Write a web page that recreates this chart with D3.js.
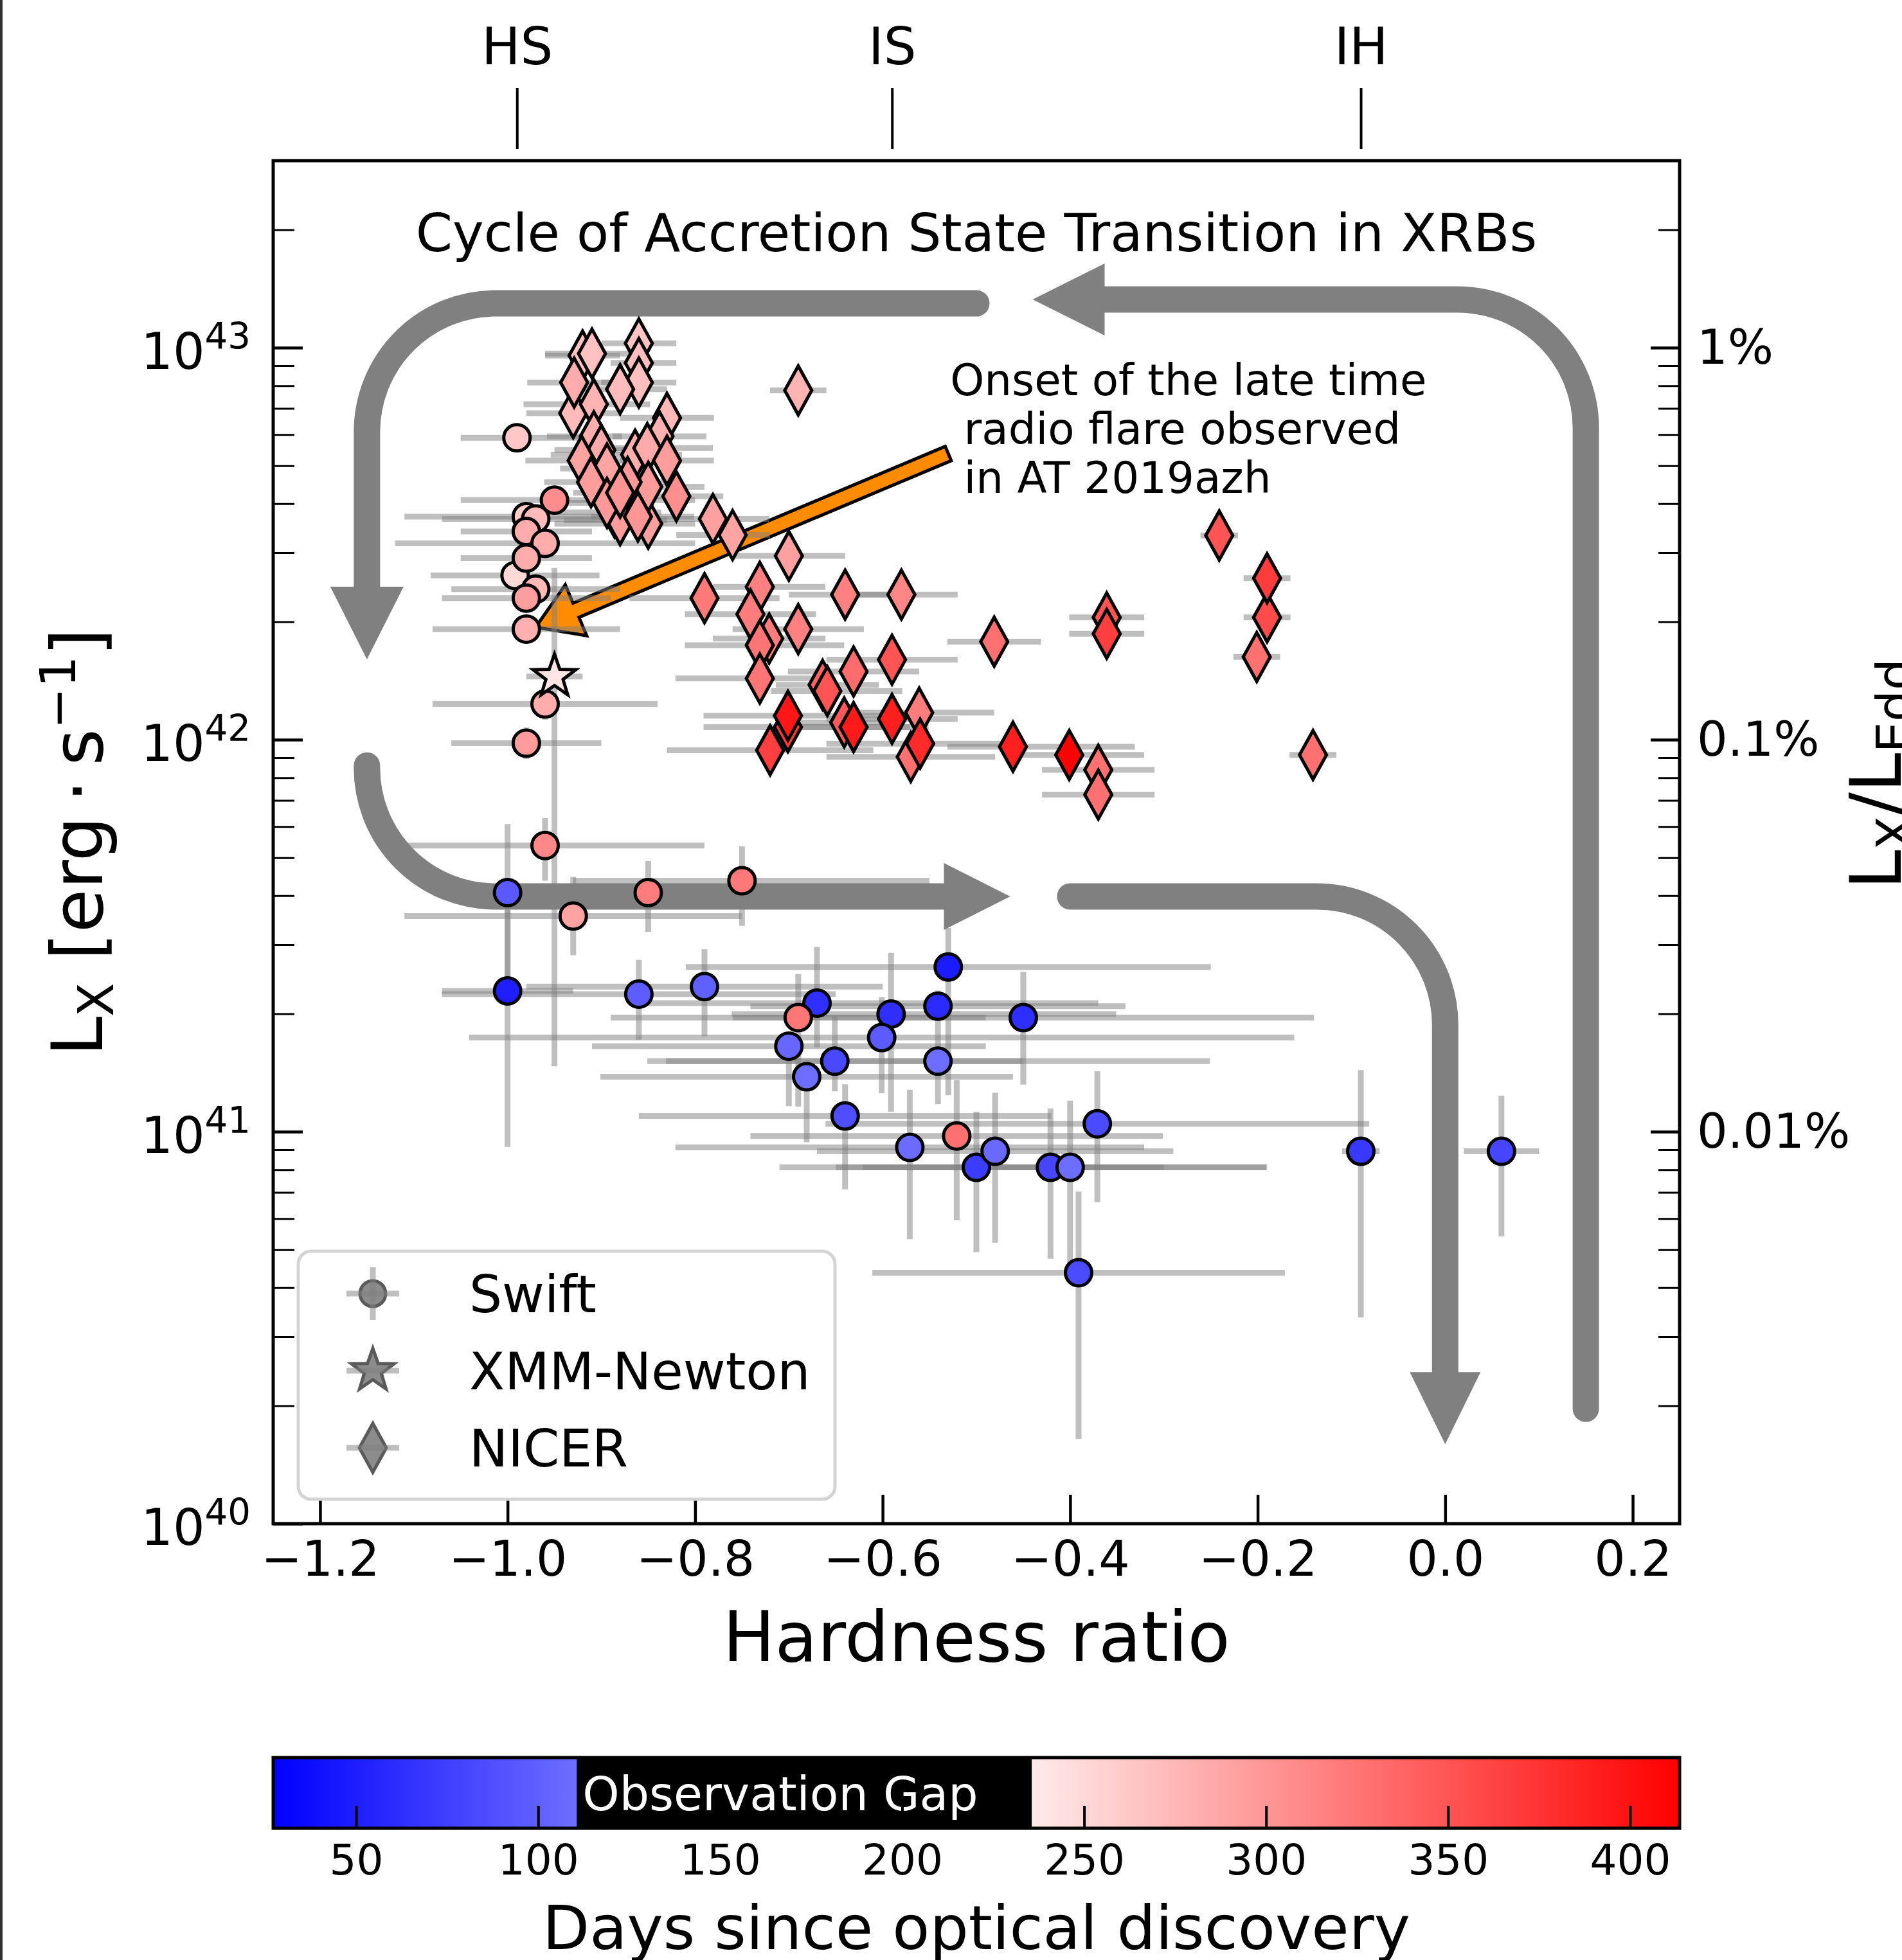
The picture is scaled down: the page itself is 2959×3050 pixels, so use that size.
<!DOCTYPE html>
<html>
<head>
<meta charset="utf-8">
<script src="https://cdn.jsdelivr.net/npm/d3@7"></script>
<style>
  body { margin: 0; background: #fff; }
  svg text { font-family: 'DejaVu Sans', sans-serif; }
</style>
</head>
<body>
<div id="chart"></div>
<script>
const width = 2959
const height = 3050
const plot = { left: 425, right: 2613, top: 250, bottom: 2371 }

// Swift: [hardness ratio, log Lx, x err low, x err high, y err low (dex), y err high (dex), days]
const swift = [
  [-1.000, 41.610, 0.08, 0.08, 0.215, 0.175, 95],
  [-1.000, 41.359, 0.07, 0.07, 0.398, 0.206, 50],
  [-0.860, 41.351, 0.21, 0.21, 0.117, 0.087, 97],
  [-0.790, 41.370, 0.19, 0.19, 0.127, 0.095, 100],
  [-0.670, 41.328, 0.20, 0.30, 0.113, 0.143, 63],
  [-0.700, 41.218, 0.21, 0.21, 0.153, 0.035, 105],
  [-0.681, 41.140, 0.22, 0.22, 0.167, 0.038, 110],
  [-0.651, 41.180, 0.20, 0.20, 0.077, 0.113, 82],
  [-0.640, 41.040, 0.22, 0.22, 0.187, 0.081, 86],
  [-0.591, 41.300, 0.17, 0.24, 0.249, 0.156, 62],
  [-0.601, 41.240, 0.44, 0.44, 0.142, 0.103, 96],
  [-0.530, 41.420, 0.28, 0.28, 0.327, 0.100, 48],
  [-0.541, 41.320, 0.20, 0.20, 0.080, 0.040, 60],
  [-0.541, 41.180, 0.29, 0.29, 0.110, 0.060, 110],
  [-0.450, 41.291, 0.31, 0.31, 0.171, 0.117, 62],
  [-0.571, 40.960, 0.25, 0.25, 0.234, 0.147, 108],
  [-0.500, 40.909, 0.21, 0.20, 0.216, 0.142, 73],
  [-0.480, 40.950, 0.19, 0.19, 0.233, 0.149, 107],
  [-0.421, 40.909, 0.20, 0.23, 0.233, 0.150, 80],
  [-0.400, 40.909, 0.25, 0.21, 0.258, 0.170, 110],
  [-0.371, 41.020, 0.29, 0.29, 0.200, 0.134, 83],
  [-0.391, 40.640, 0.22, 0.22, 0.424, 0.207, 84],
  [-0.090, 40.950, 0.02, 0.02, 0.424, 0.207, 70],
  [0.060, 40.950, 0.04, 0.04, 0.217, 0.142, 80],
  [-0.990, 42.770, 0.06, 0.07, 0.02, 0.02, 263],
  [-0.950, 42.611, 0.10, 0.15, 0.03, 0.03, 307],
  [-0.980, 42.569, 0.13, 0.13, 0.03, 0.03, 260],
  [-0.970, 42.563, 0.10, 0.10, 0.03, 0.03, 272],
  [-0.980, 42.531, 0.07, 0.07, 0.03, 0.03, 283],
  [-0.960, 42.501, 0.16, 0.16, 0.03, 0.03, 283],
  [-0.980, 42.463, 0.07, 0.07, 0.03, 0.03, 283],
  [-0.992, 42.419, 0.09, 0.09, 0.03, 0.03, 250],
  [-0.970, 42.384, 0.09, 0.09, 0.03, 0.03, 274],
  [-0.980, 42.361, 0.09, 0.09, 0.03, 0.03, 294],
  [-0.980, 42.282, 0.10, 0.10, 0.03, 0.03, 281],
  [-0.960, 42.091, 0.12, 0.12, 0.04, 0.04, 283],
  [-0.980, 41.991, 0.08, 0.08, 0.04, 0.04, 296],
  [-0.960, 41.730, 0.155, 0.17, 0.09, 0.07, 311],
  [-0.930, 41.550, 0.18, 0.18, 0.10, 0.10, 291],
  [-0.850, 41.610, 0.15, 0.15, 0.10, 0.08, 320],
  [-0.750, 41.640, 0.18, 0.20, 0.115, 0.088, 322],
  [-0.690, 41.291, 0.20, 0.20, 0.227, 0.111, 324],
  [-0.521, 40.989, 0.22, 0.22, 0.215, 0.142, 328]
]

// XMM-Newton: same columns
const xmm = [
  [-0.950, 42.161, 0.03, 0.03, 0.994, 0.277, 240]
]

// NICER: [hardness ratio, log Lx, x err low, x err high, days]
const nicer = [
  [-0.920, 42.980, 0.04, 0.04, 267],
  [-0.910, 42.985, 0.05, 0.04, 267],
  [-0.860, 43.011, 0.04, 0.04, 264],
  [-0.860, 42.961, 0.03, 0.04, 269],
  [-0.860, 42.911, 0.04, 0.04, 269],
  [-0.929, 42.911, 0.05, 0.05, 283],
  [-0.930, 42.833, 0.05, 0.05, 273],
  [-0.908, 42.856, 0.075, 0.06, 278],
  [-0.880, 42.894, 0.05, 0.05, 271],
  [-0.830, 42.821, 0.05, 0.05, 275],
  [-0.921, 42.712, 0.06, 0.06, 291],
  [-0.900, 42.739, 0.05, 0.05, 285],
  [-0.911, 42.657, 0.05, 0.05, 295],
  [-0.851, 42.744, 0.06, 0.07, 285],
  [-0.864, 42.727, 0.09, 0.05, 282],
  [-0.830, 42.712, 0.05, 0.05, 295],
  [-0.880, 42.630, 0.05, 0.04, 301],
  [-0.894, 42.604, 0.06, 0.05, 298],
  [-0.886, 42.580, 0.06, 0.05, 295],
  [-0.861, 42.569, 0.05, 0.06, 301],
  [-0.850, 42.551, 0.10, 0.05, 292],
  [-0.820, 42.621, 0.06, 0.05, 305],
  [-0.880, 42.560, 0.06, 0.05, 295],
  [-0.894, 42.692, 0.05, 0.05, 290],
  [-0.872, 42.657, 0.05, 0.05, 298],
  [-0.838, 42.774, 0.05, 0.05, 280],
  [-0.908, 42.774, 0.05, 0.03, 283],
  [-0.850, 42.645, 0.05, 0.06, 296],
  [-0.781, 42.563, 0.06, 0.06, 292],
  [-0.760, 42.522, 0.06, 0.04, 290],
  [-0.690, 42.891, 0.03, 0.03, 277],
  [-0.700, 42.469, 0.06, 0.06, 292],
  [-0.790, 42.361, 0.08, 0.08, 322],
  [-0.731, 42.390, 0.05, 0.07, 317],
  [-0.741, 42.320, 0.07, 0.07, 320],
  [-0.690, 42.282, 0.07, 0.07, 317],
  [-0.640, 42.370, 0.06, 0.06, 317],
  [-0.580, 42.370, 0.05, 0.06, 312],
  [-0.731, 42.241, 0.08, 0.09, 326],
  [-0.721, 42.258, 0.06, 0.06, 320],
  [-0.731, 42.156, 0.09, 0.07, 326],
  [-0.481, 42.250, 0.05, 0.05, 328],
  [-0.361, 42.312, 0.04, 0.04, 350],
  [-0.361, 42.270, 0.04, 0.04, 366],
  [-0.241, 42.521, 0.02, 0.02, 350],
  [-0.190, 42.412, 0.025, 0.025, 368],
  [-0.190, 42.312, 0.025, 0.025, 357],
  [-0.201, 42.211, 0.025, 0.025, 328],
  [-0.590, 42.204, 0.07, 0.07, 350],
  [-0.631, 42.174, 0.07, 0.07, 332],
  [-0.659, 42.124, 0.06, 0.08, 350],
  [-0.664, 42.140, 0.05, 0.06, 340],
  [-0.701, 42.061, 0.09, 0.10, 396],
  [-0.701, 42.032, 0.09, 0.13, 372],
  [-0.720, 41.973, 0.11, 0.11, 366],
  [-0.641, 42.044, 0.06, 0.06, 347],
  [-0.631, 42.032, 0.07, 0.08, 394],
  [-0.590, 42.053, 0.07, 0.07, 390],
  [-0.561, 42.069, 0.08, 0.08, 320],
  [-0.560, 41.990, 0.10, 0.10, 382],
  [-0.570, 41.956, 0.09, 0.09, 328],
  [-0.461, 41.982, 0.07, 0.13, 390],
  [-0.401, 41.961, 0.07, 0.08, 413],
  [-0.370, 41.923, 0.06, 0.06, 328],
  [-0.370, 41.860, 0.06, 0.06, 328],
  [-0.141, 41.961, 0.025, 0.025, 328]
]

const xTicks = [-1.2, -1.0, -0.8, -0.6, -0.4, -0.2, 0.0, 0.2]
const yExps = [40, 41, 42, 43]
const eddExps = [41, 42, 43]
const eddLabels = ['0.01%', '0.1%', '1%']
const stateTicks = [-0.99, -0.59, -0.09]
const stateNames = ['HS', 'IS', 'IH']
const cbarTicks = [50, 100, 150, 200, 250, 300, 350, 400]
const dayRange = [27.2, 413.6]
const gapDays = [110.6, 235.6]
const legendNames = ['Swift', 'XMM-Newton', 'NICER']
const noteLines = ['Onset of the late time', ' radio flare observed', ' in AT 2019azh']

// the accretion cycle arrows, in (hardness, log Lx); last point is the tip
const cycleArrows = [
  { pts: [[0.15, 40.293], [0.15, 43.123], [-0.44, 43.123]], head: [112, 56] },
  { pts: [[-0.50, 43.113], [-1.15, 43.113], [-1.15, 42.205]], head: [113, 57] },
  { pts: [[-1.15, 41.934], [-1.15, 41.60], [-0.464, 41.60]], head: [103, 52] },
  { pts: [[-0.40, 41.60], [0.0, 41.60], [0.0, 40.203]], head: [112, 55] }
]
const flareArrow = { from: [-0.53, 42.73], to: [-0.97, 42.287] }

const svg = d3.select('#chart').append('svg')
  .attr('width', width)
  .attr('height', height)

svg.append('rect').attr('width', width).attr('height', height).attr('fill', '#fff')
svg.append('rect').attr('x', 0).attr('width', 4).attr('height', height).attr('fill', '#333')

const x = d3.scaleLinear().domain([-1.25, 0.25]).range([plot.left, plot.right])
const y = d3.scaleLog().domain([1e40, 3e43]).range([plot.bottom, plot.top])
const yl = v => y(Math.pow(10, v))
const color = d3.scaleLinear()
  .domain([dayRange[0], (dayRange[0] + dayRange[1]) / 2, dayRange[1]])
  .range(['#0000ff', '#ffffff', '#ff0000'])

svg.append('clipPath').attr('id', 'clip')
  .append('rect')
  .attr('x', plot.left).attr('y', plot.top)
  .attr('width', plot.right - plot.left).attr('height', plot.bottom - plot.top)

// rounded polyline through pixel points
function roundedLine(p, r) {
  let d = 'M' + p[0][0] + ',' + p[0][1]
  for (let i = 1; i < p.length - 1; i++) {
    const [ax, ay] = p[i - 1], [bx, by] = p[i], [cx, cy] = p[i + 1]
    const l1 = Math.hypot(bx - ax, by - ay), l2 = Math.hypot(cx - bx, cy - by)
    const u1 = [(bx - ax) / l1, (by - ay) / l1], u2 = [(cx - bx) / l2, (cy - by) / l2]
    const rr = Math.min(r, l1, l2)
    const sweep = u1[0] * u2[1] - u1[1] * u2[0] > 0 ? 1 : 0
    d += 'L' + (bx - u1[0] * rr) + ',' + (by - u1[1] * rr)
    d += 'A' + rr + ',' + rr + ' 0 0 ' + sweep + ' ' + (bx + u2[0] * rr) + ',' + (by + u2[1] * rr)
  }
  const q = p[p.length - 1]
  return d + 'L' + q[0] + ',' + q[1]
}

const arrowG = svg.append('g')
cycleArrows.forEach(a => {
  const p = a.pts.map(d => [x(d[0]), yl(d[1])])
  const tip = p[p.length - 1], prev = p[p.length - 2]
  const L = Math.hypot(tip[0] - prev[0], tip[1] - prev[1])
  const u = [(tip[0] - prev[0]) / L, (tip[1] - prev[1]) / L]
  const base = [tip[0] - u[0] * a.head[0], tip[1] - u[1] * a.head[0]]
  const line = p.slice(0, -1).concat([base])
  arrowG.append('path')
    .attr('d', roundedLine(line, 200))
    .attr('fill', 'none')
    .attr('stroke', '#808080')
    .attr('stroke-width', 41)
    .attr('stroke-linecap', 'round')
  const h = a.head[1]
  arrowG.append('path')
    .attr('d', 'M' + tip + 'L' + [base[0] - u[1] * h, base[1] + u[0] * h] + 'L' + [base[0] + u[1] * h, base[1] - u[0] * h] + 'Z')
    .attr('fill', '#808080')
})

// orange arrow to the flare onset
{
  const x0 = x(flareArrow.from[0]), y0 = yl(flareArrow.from[1])
  const x1 = x(flareArrow.to[0]), y1 = yl(flareArrow.to[1])
  const L = Math.hypot(x1 - x0, y1 - y0), ux = (x1 - x0) / L, uy = (y1 - y0) / L
  const px = -uy, py = ux, w = 12, hw = 43, hl = 68
  const bx = x1 - ux * hl, by = y1 - uy * hl
  const poly = [
    [x0 + px * w, y0 + py * w], [bx + px * w, by + py * w], [bx + px * hw, by + py * hw],
    [x1, y1], [bx - px * hw, by - py * hw], [bx - px * w, by - py * w], [x0 - px * w, y0 - py * w]
  ]
  svg.append('path')
    .attr('d', 'M' + poly.join('L') + 'Z')
    .attr('fill', '#ff8c00')
    .attr('stroke', '#000')
    .attr('stroke-width', 5)
    .attr('stroke-linejoin', 'miter')
}

// error bars
const errG = svg.append('g')
  .attr('clip-path', 'url(#clip)')
  .attr('stroke', '#808080')
  .attr('stroke-opacity', 0.5)
  .attr('stroke-width', 9)

const withY = swift.concat(xmm)
errG.selectAll('.xerr')
  .data(withY.concat(nicer))
  .enter().append('line')
  .attr('x1', d => x(d[0] - d[2]))
  .attr('x2', d => x(d[0] + d[3]))
  .attr('y1', d => yl(d[1]))
  .attr('y2', d => yl(d[1]))

errG.selectAll('.yerr')
  .data(withY)
  .enter().append('line')
  .attr('x1', d => x(d[0]))
  .attr('x2', d => x(d[0]))
  .attr('y1', d => yl(d[1] - d[4]))
  .attr('y2', d => yl(d[1] + d[5]))

// markers
const diamond = 'M0,-38L21,0L0,38L-21,0Z'
function starPath(R, r) {
  return 'M' + d3.range(10).map(k => {
    const a = -Math.PI / 2 + k * Math.PI / 5, rad = k % 2 ? r : R
    return [rad * Math.cos(a), rad * Math.sin(a)]
  }).join('L') + 'Z'
}

const markG = svg.append('g').attr('clip-path', 'url(#clip)')
markG.selectAll('.swift')
  .data(swift.slice().sort((a, b) => a[6] - b[6]))
  .enter().append('circle')
  .attr('cx', d => x(d[0]))
  .attr('cy', d => yl(d[1]))
  .attr('r', 20.5)
  .attr('fill', d => color(d[6]))
  .attr('stroke', '#000')
  .attr('stroke-width', 5)

markG.selectAll('.nicer')
  .data(nicer.slice().sort((a, b) => a[4] - b[4]))
  .enter().append('path')
  .attr('d', diamond)
  .attr('transform', d => `translate(${x(d[0])},${yl(d[1])})`)
  .attr('fill', d => color(d[4]))
  .attr('stroke', '#000')
  .attr('stroke-width', 5)

markG.selectAll('.xmm')
  .data(xmm)
  .enter().append('path')
  .attr('d', starPath(35, 14))
  .attr('transform', d => `translate(${x(d[0])},${yl(d[1])})`)
  .attr('fill', d => color(d[6]))
  .attr('stroke', '#000')
  .attr('stroke-width', 5)

// axes
function styleAxis(g, size) {
  g.attr('font-family', 'DejaVu Sans').attr('font-size', size)
  g.select('.domain').remove()
  g.selectAll('.tick line').attr('stroke', '#000').attr('stroke-width', 4.5)
  g.selectAll('.tick text').attr('fill', '#000')
}

const gx = svg.append('g')
  .attr('transform', `translate(0,${plot.bottom})`)
  .call(d3.axisBottom(x).tickValues(xTicks).tickSize(-45).tickPadding(27).tickFormat(d3.format('.1f')))
styleAxis(gx, 76)

const minorVals = []
yExps.forEach(e => d3.range(2, 10).forEach(m => { if (m * Math.pow(10, e) < 3e43) minorVals.push(m * Math.pow(10, e)) }))

const gy = svg.append('g')
  .attr('transform', `translate(${plot.left},0)`)
  .call(d3.axisLeft(y).tickValues(yExps.map(e => Math.pow(10, e))).tickSize(-46).tickPadding(35))
styleAxis(gy, 78)
gy.selectAll('.tick text').each(function (d) {
  const t = d3.select(this).text(null).attr('dy', '0.42em')
  t.append('tspan').text('10')
  t.append('tspan').attr('dy', '-0.55em').attr('font-size', '0.72em').text(Math.round(Math.log10(d)))
})
const gyMinor = svg.append('g')
  .attr('transform', `translate(${plot.left},0)`)
  .call(d3.axisLeft(y).tickValues(minorVals).tickSize(-33).tickFormat(''))
styleAxis(gyMinor, 10)
gyMinor.selectAll('.tick line').attr('stroke-width', 3)

const gr = svg.append('g')
  .attr('transform', `translate(${plot.right},0)`)
  .call(d3.axisRight(y).tickValues(eddExps.map(e => Math.pow(10, e))).tickSize(-45).tickPadding(27)
    .tickFormat((d, i) => eddLabels[i]))
styleAxis(gr, 75)
const grMinor = svg.append('g')
  .attr('transform', `translate(${plot.right},0)`)
  .call(d3.axisRight(y).tickValues(minorVals).tickSize(-33).tickFormat(''))
styleAxis(grMinor, 10)
grMinor.selectAll('.tick line').attr('stroke-width', 3)

const gt = svg.append('g')
  .attr('transform', 'translate(0,232)')
  .call(d3.axisTop(x).tickValues(stateTicks).tickSize(95).tickPadding(37).tickFormat((d, i) => stateNames[i]))
styleAxis(gt, 80)
gt.selectAll('.tick line').attr('stroke-width', 4)

svg.append('rect')
  .attr('x', plot.left).attr('y', plot.top)
  .attr('width', plot.right - plot.left).attr('height', plot.bottom - plot.top)
  .attr('fill', 'none').attr('stroke', '#000').attr('stroke-width', 5)

// axis labels
svg.append('text')
  .attr('x', (plot.left + plot.right) / 2).attr('y', 2585)
  .attr('text-anchor', 'middle').attr('font-size', 108)
  .text('Hardness ratio')

const ylab = svg.append('text')
  .attr('transform', `translate(159,${(plot.top + plot.bottom) / 2}) rotate(-90)`)
  .attr('text-anchor', 'middle').attr('font-size', 110)
ylab.append('tspan').text('L')
ylab.append('tspan').attr('font-size', 77).attr('dy', 17).text('X')
ylab.append('tspan').attr('dy', -17).text(' [erg\u2009·\u2009s')
ylab.append('tspan').attr('font-size', 77).attr('dy', -42).text('\u22121')
ylab.append('tspan').attr('dy', 42).text(']')

const rlab = svg.append('text')
  .attr('transform', 'translate(2957,1384) rotate(-90)')
  .attr('font-size', 110)
rlab.append('tspan').text('L')
rlab.append('tspan').attr('font-size', 77).attr('dy', 17).text('X')
rlab.append('tspan').attr('dy', -17).text('/L')
rlab.append('tspan').attr('font-size', 77).attr('dy', 17).text('Edd')

// annotations
svg.append('text')
  .attr('x', (plot.left + plot.right) / 2).attr('y', 391)
  .attr('text-anchor', 'middle').attr('font-size', 82)
  .text('Cycle of Accretion State Transition in XRBs')

svg.append('g').selectAll('text')
  .data(noteLines)
  .enter().append('text')
  .attr('x', x(-0.528))
  .attr('y', (d, i) => 615 + i * 76)
  .attr('font-size', 67.5)
  .attr('xml:space', 'preserve')
  .style('white-space', 'pre')
  .text(d => d)

// legend
const leg = svg.append('g')
leg.append('rect')
  .attr('x', 464).attr('y', 1947).attr('width', 835).attr('height', 386)
  .attr('rx', 20)
  .attr('fill', '#fff').attr('stroke', '#d4d4d4').attr('stroke-width', 5)
const legShapes = [
  g => g.append('circle').attr('r', 20),
  g => g.append('path').attr('d', starPath(35, 14)),
  g => g.append('path').attr('d', diamond)
]
legendNames.forEach((name, i) => {
  const g = leg.append('g').attr('transform', `translate(580,${2013 + i * 120})`)
  legShapes[i](g).attr('fill', '#8c8c8c').attr('stroke', '#5a5a5a').attr('stroke-width', 5)
  g.append('line').attr('x1', -41).attr('x2', 41)
    .attr('stroke', '#808080').attr('stroke-opacity', 0.5).attr('stroke-width', 9)
  if (i === 0) {
    g.append('line').attr('y1', -41).attr('y2', 41)
      .attr('stroke', '#808080').attr('stroke-opacity', 0.5).attr('stroke-width', 9)
  }
  leg.append('text')
    .attr('x', 730).attr('y', 2013 + i * 120 + 29)
    .attr('font-size', 80.5)
    .text(name)
})

// colorbar
const cbTop = 2735, cbBottom = 2845
const c = d3.scaleLinear().domain(dayRange).range([plot.left, plot.right])
const grad = svg.append('defs').append('linearGradient')
  .attr('id', 'bwr').attr('gradientUnits', 'userSpaceOnUse')
  .attr('x1', c(dayRange[0])).attr('x2', c(dayRange[1])).attr('y1', 0).attr('y2', 0)
grad.selectAll('stop')
  .data([0, 0.5, 1])
  .enter().append('stop')
  .attr('offset', d => d)
  .attr('stop-color', d => color(dayRange[0] + d * (dayRange[1] - dayRange[0])))

svg.append('rect')
  .attr('x', c(dayRange[0])).attr('y', cbTop)
  .attr('width', c(dayRange[1]) - c(dayRange[0])).attr('height', cbBottom - cbTop)
  .attr('fill', 'url(#bwr)')
svg.append('rect')
  .attr('x', c(gapDays[0])).attr('y', cbTop)
  .attr('width', c(gapDays[1]) - c(gapDays[0])).attr('height', cbBottom - cbTop)
  .attr('fill', '#000')
svg.append('text')
  .attr('x', c(gapDays[0]) + 9).attr('y', 2817)
  .attr('font-size', 73).attr('fill', '#fff')
  .text('Observation Gap')

const gc = svg.append('g')
  .attr('transform', `translate(0,${cbBottom})`)
  .call(d3.axisBottom(c).tickValues(cbarTicks).tickSize(-35).tickPadding(25))
styleAxis(gc, 66)
gc.selectAll('.tick line').attr('stroke-width', 4)

svg.append('rect')
  .attr('x', c(dayRange[0])).attr('y', cbTop)
  .attr('width', c(dayRange[1]) - c(dayRange[0])).attr('height', cbBottom - cbTop)
  .attr('fill', 'none').attr('stroke', '#000').attr('stroke-width', 5)

svg.append('text')
  .attr('x', (plot.left + plot.right) / 2).attr('y', 3033)
  .attr('text-anchor', 'middle').attr('font-size', 95)
  .text('Days since optical discovery')
</script>
</body>
</html>
